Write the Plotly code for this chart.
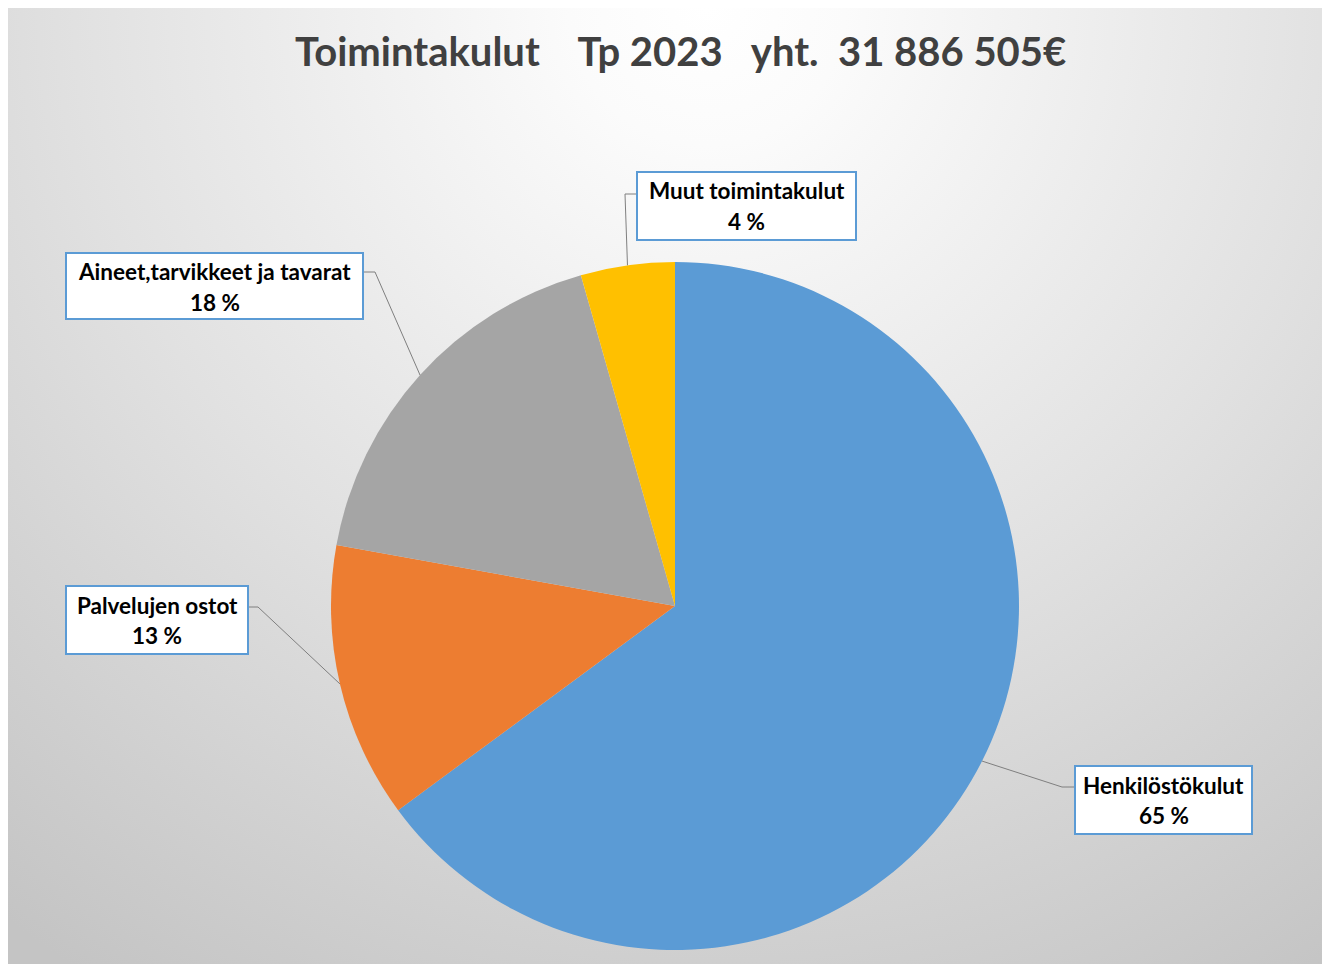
import math
import urllib.parse
import plotly.graph_objects as go

# ---- data ----
categories = ["Henkilöstökulut", "Palvelujen ostot", "Aineet,tarvikkeet ja tavarat", "Muut toimintakulut"]
values = [20690000, 4130000, 5660000, 1406505]
colors = ["#5B9BD5", "#ED7D31", "#A5A5A5", "#FFC000"]
title_text = "Toimintakulut\u00a0\u00a0\u00a0\u00a0Tp 2023\u00a0\u00a0\u00a0yht.\u00a0\u00a031 886 505€"

OFF = 8  # page body margin
W, H = 1330 - OFF, 964 - OFF
CX, CY, R = 675, 606, 344  # pie centre / radius in page pixels


def fx(x):
    return (x - OFF) / W


def fy(y):
    return 1 - (y - OFF) / H


# label boxes (page pixels: x0, y0, x1, y1) and elbow of leader line
boxes = [
    (1075, 766, 1252, 834),
    (66, 586, 248, 654),
    (66, 253, 363, 319),
    (637, 172, 856, 240),
]
elbows = [
    ((1075, 787), (1062, 787)),
    ((248, 607), (258, 607)),
    ((363, 272), (375, 272)),
    ((637, 194), (625, 194)),
]

fig = go.Figure()
fig.add_trace(go.Pie(
    labels=categories, values=values, sort=False, direction="clockwise",
    rotation=0, marker=dict(colors=colors, line=dict(width=0)),
    textinfo="none", hoverinfo="label+percent", showlegend=False,
    domain=dict(x=[fx(CX - R), fx(CX + R)], y=[fy(CY + R), fy(CY - R)]),
))

svg = (
    "<svg xmlns='http://www.w3.org/2000/svg' width='1316' height='957' viewBox='0 0 1316 957'>"
    "<defs><radialGradient id='g' gradientUnits='userSpaceOnUse' cx='700' cy='0' r='1150'>"
    "<stop offset='0' stop-color='#ffffff'/>"
    "<stop offset='0.12' stop-color='#fbfbfb'/>"
    "<stop offset='0.55' stop-color='#e1e1e1'/>"
    "<stop offset='1' stop-color='#c4c4c4'/>"
    "</radialGradient></defs>"
    "<rect width='1316' height='957' fill='url(#g)'/></svg>"
)
src = "data:image/svg+xml;charset=utf-8," + urllib.parse.quote(svg)

fig.add_layout_image(dict(
    source=src, xref="paper", yref="paper", x=fx(7), y=fy(7),
    sizex=fx(1323) - fx(7), sizey=fy(7) - fy(964), xanchor="left", yanchor="top",
    sizing="stretch", layer="below",
))

total = sum(values)
cum = 0
shapes = []
annotations = []
for i, v in enumerate(values):
    mid = (cum + v / 2) / total
    cum += v
    ang = 2 * math.pi * mid
    ex = CX + R * math.sin(ang)
    ey = CY - R * math.cos(ang)
    (ax, ay), (bx, by) = elbows[i]
    shapes.append(dict(
        type="path", xref="paper", yref="paper",
        path=f"M {fx(ax)},{fy(ay)} L {fx(bx)},{fy(by)} L {fx(ex)},{fy(ey)}",
        line=dict(color="#7F7F7F", width=1),
    ))
    x0, y0, x1, y1 = boxes[i]
    shapes.append(dict(
        type="rect", xref="paper", yref="paper",
        x0=fx(x0), x1=fx(x1), y0=fy(y1), y1=fy(y0),
        fillcolor="white", line=dict(color="#5B9BD5", width=2),
    ))
    pct = round(v / total * 100)
    xc = (x0 + x1) / 2
    annotations.append(dict(
        x=fx(xc), y=fy(y0 + 19), xref="paper", yref="paper", showarrow=False,
        text=f"<b>{categories[i]}</b>", font=dict(family="Lato", size=22.5, color="#000000"),
        xanchor="center", yanchor="middle",
    ))
    annotations.append(dict(
        x=fx(xc), y=fy(y0 + 49), xref="paper", yref="paper", showarrow=False,
        text=f"<b>{pct} %</b>", font=dict(family="Lato", size=22.5, color="#000000"),
        xanchor="center", yanchor="middle",
    ))

annotations.append(dict(
    x=fx(680), y=fy(51), xref="paper", yref="paper", showarrow=False,
    text=f"<b>{title_text}</b>", font=dict(family="Lato", size=40, color="#404040"),
    xanchor="center", yanchor="middle",
))

fig.update_layout(
    width=W, height=H, margin=dict(l=0, r=0, t=0, b=0),
    paper_bgcolor="white", plot_bgcolor="white",
    shapes=shapes, annotations=annotations,
)

fig.write_html("out.html")
